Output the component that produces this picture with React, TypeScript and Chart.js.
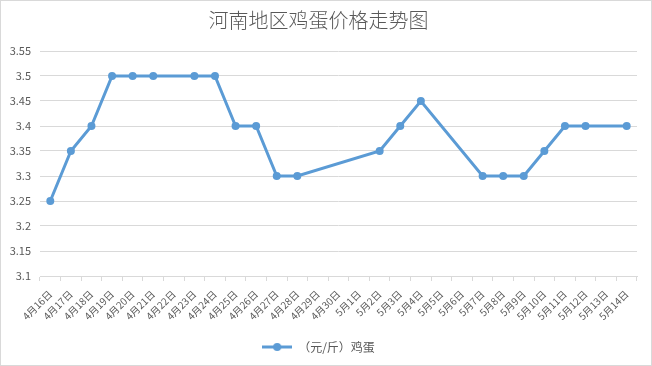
import React, { useEffect, useRef } from "react";
import { Chart, registerables } from "chart.js";

Chart.register(...registerables);

const categories = [
  "4月16日", "4月17日", "4月18日", "4月19日", "4月20日", "4月21日", "4月22日",
  "4月23日", "4月24日", "4月25日", "4月26日", "4月27日", "4月28日", "4月29日",
  "4月30日", "5月1日", "5月2日", "5月3日", "5月4日", "5月5日", "5月6日",
  "5月7日", "5月8日", "5月9日", "5月10日", "5月11日", "5月12日", "5月13日", "5月14日",
];

const eggPrices: (number | null)[] = [
  3.25, 3.35, 3.4, 3.5, 3.5, 3.5, null,
  3.5, 3.5, 3.4, 3.4, 3.3, 3.3, null,
  null, null, 3.35, 3.4, 3.45, null, null,
  3.3, 3.3, 3.3, 3.35, 3.4, 3.4, null, 3.4,
];

const seriesName = "（元/斤）鸡蛋";
const titleText = "河南地区鸡蛋价格走势图";
const yMin = 3.1;
const yMax = 3.55;
const yStep = 0.05;

const FONT = "'Noto Sans CJK SC', 'Noto Sans', sans-serif";
const TEXT = "#595959";
const GRID = "#d9d9d9";
const BLUE = "#5B9BD5";

export default function App() {
  const ref = useRef<HTMLCanvasElement | null>(null);

  useEffect(() => {
    document.body.style.margin = "0";
    const canvas = ref.current;
    if (!canvas) return;

    const marker = document.createElement("canvas");
    marker.width = 30;
    marker.height = 10;
    const mctx = marker.getContext("2d")!;
    mctx.strokeStyle = BLUE;
    mctx.lineWidth = 3;
    mctx.beginPath();
    mctx.moveTo(0, 5);
    mctx.lineTo(30, 5);
    mctx.stroke();
    mctx.fillStyle = BLUE;
    mctx.beginPath();
    mctx.arc(15, 5, 4, 0, Math.PI * 2);
    mctx.fill();

    const borderPlugin = {
      id: "outerBorder",
      afterDraw(chart: any) {
        const c = chart.ctx;
        c.save();
        c.strokeStyle = GRID;
        c.lineWidth = 1;
        c.strokeRect(0.5, 0.5, chart.width - 1, chart.height - 1);
        c.restore();
      },
    };

    const chart = new Chart(canvas, {
      type: "line",
      data: {
        labels: categories,
        datasets: [
          {
            label: seriesName,
            data: eggPrices,
            borderColor: BLUE,
            backgroundColor: BLUE,
            borderWidth: 3,
            pointRadius: 4,
            pointHoverRadius: 4,
            pointBackgroundColor: BLUE,
            pointBorderColor: BLUE,
            pointBorderWidth: 0,
            spanGaps: true,
            tension: 0,
          },
        ],
      },
      options: {
        responsive: false,
        animation: false,
        devicePixelRatio: 1,
        layout: { padding: { left: 0, right: 15, top: 0, bottom: 3 } },
        plugins: {
          title: {
            display: true,
            text: titleText,
            color: TEXT,
            font: { family: FONT, size: 20, weight: "300" },
            padding: { top: 8, bottom: 19 },
          },
          legend: {
            position: "bottom",
            labels: {
              usePointStyle: true,
              pointStyleWidth: 30,
              color: TEXT,
              font: { family: FONT, size: 12 },
              padding: 10,
              generateLabels: (ch: any) => {
                const items = (Chart.defaults.plugins.legend.labels as any).generateLabels(ch);
                return items.map((it: any) => ({ ...it, pointStyle: marker }));
              },
            },
          },
          tooltip: { enabled: false },
        },
        scales: {
          x: {
            offset: true,
            grid: {
              offset: true,
              drawOnChartArea: false,
              drawTicks: true,
              tickLength: 5,
              color: GRID,
            },
            border: { display: true, color: GRID },
            afterFit: (scale: any) => {
              scale.height = 55;
            },
            ticks: {
              autoSkip: false,
              maxRotation: 45,
              minRotation: 45,
              color: TEXT,
              padding: 7,
              font: { family: FONT, size: 10 },
            },
          },
          y: {
            min: yMin,
            max: yMax,
            grid: { color: GRID, drawTicks: false },
            border: { display: false },
            afterFit: (scale: any) => {
              scale.width = 40;
            },
            ticks: {
              stepSize: yStep,
              padding: 9,
              color: TEXT,
              font: { family: FONT, size: 11 },
              callback: (v: any) => String(Number(Number(v).toFixed(2))),
            },
          },
        },
      },
      plugins: [borderPlugin],
    });

    return () => chart.destroy();
  }, []);

  return (
    <div style={{ width: 652, height: 366 }}>
      <canvas ref={ref} width={652} height={366} style={{ display: "block" }} />
    </div>
  );
}
